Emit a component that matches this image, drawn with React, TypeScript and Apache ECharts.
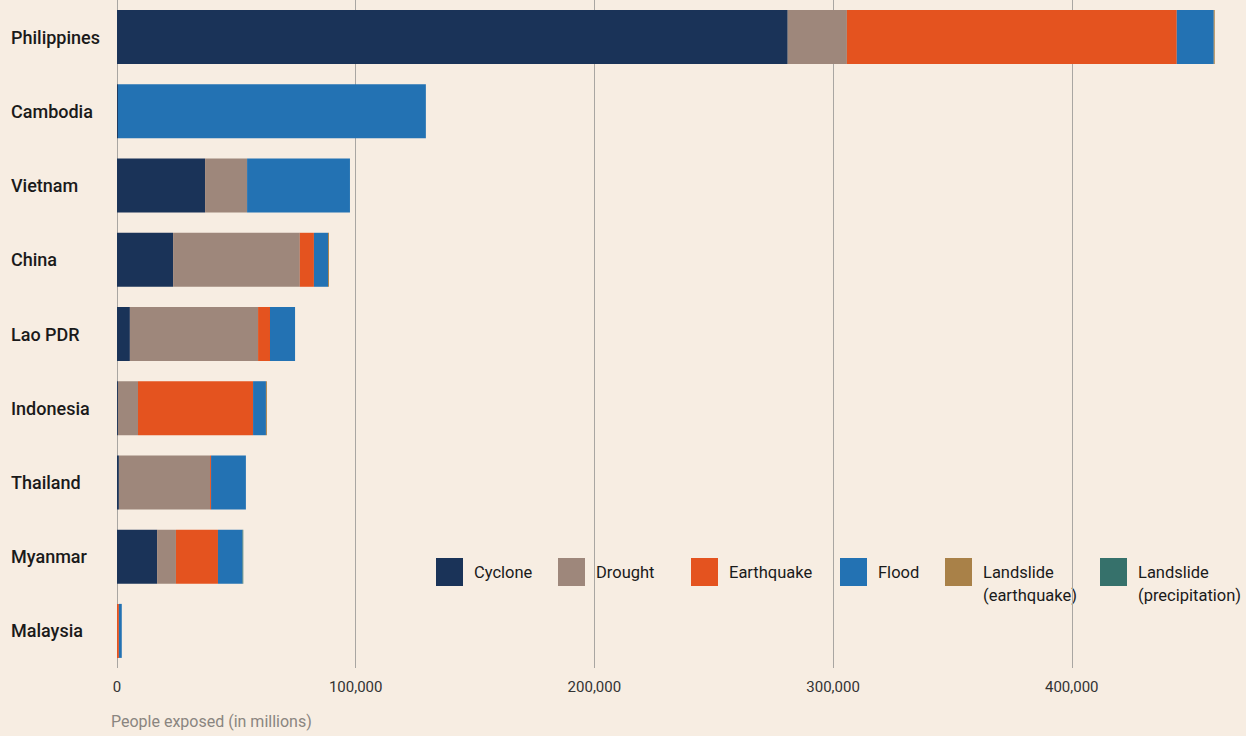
import React, { useEffect, useRef } from "react";
import * as echarts from "echarts";

const categories = ["Philippines", "Cambodia", "Vietnam", "China", "Lao PDR", "Indonesia", "Thailand", "Myanmar", "Malaysia"];
const cyclone = [281000, 400, 36900, 23500, 5400, 400, 800, 16800, 0];
const drought = [24800, 0, 17600, 53100, 53700, 8400, 38200, 7900, 0];
const earthquake = [138200, 0, 0, 5900, 5000, 48200, 400, 17600, 800];
const flood = [15500, 129000, 43100, 5900, 10500, 5400, 14600, 10300, 1200];
const landslideEq = [400, 0, 0, 400, 0, 400, 0, 0, 0];
const landslidePrecip = [0, 0, 0, 0, 0, 0, 0, 300, 0];
const xTicks = [0, 100000, 200000, 300000, 400000];

const seriesNames = ["Cyclone", "Drought", "Earthquake", "Flood", "Landslide (earthquake)", "Landslide (precipitation)"];
const seriesData = [cyclone, drought, earthquake, flood, landslideEq, landslidePrecip];
const colors = ["#1a3358", "#9e877b", "#e4531f", "#2372b3", "#a98148", "#36716b"];
const legendFirstLine = ["Cyclone", "Drought", "Earthquake", "Flood", "Landslide", "Landslide"];
const legendSecondLine = ["", "", "", "", "(earthquake)", "(precipitation)"];
const legendLeft = [436, 558, 691, 840, 945, 1100];

const FONT = "Roboto, 'Noto Sans', sans-serif";

export default function App() {
  const ref = useRef<HTMLDivElement>(null);
  useEffect(() => {
    if (!ref.current) return;
    const chart = echarts.init(ref.current, undefined, { renderer: "svg" });
    const legends = seriesNames.map((n, i) => ({
      show: true,
      left: legendLeft[i],
      top: 558,
      padding: 0,
      orient: "horizontal",
      selectedMode: false,
      itemWidth: 27,
      itemHeight: 28,
      icon: "rect",
      data: [n],
      formatter: () => legendFirstLine[i],
      textStyle: {
        fontFamily: FONT,
        fontSize: 16.5,
        color: "#1a1a1a",
        padding: [0, 0, 0, 6],
      },
    }));
    const secondLines = legendSecondLine
      .map((t, i) => ({ t, i }))
      .filter((o) => o.t)
      .map((o) => ({
        type: "text",
        left: legendLeft[o.i] + 38,
        top: 587,
        style: { text: o.t, fontFamily: FONT, fontSize: 16.5, fill: "#1a1a1a" },
      }));
    chart.setOption({
      animation: false,
      backgroundColor: "#f7ede2",
      textStyle: { fontFamily: FONT },
      color: colors,
      legend: legends,
      grid: { left: 117, width: 1129, top: 0, height: 668, containLabel: false },
      xAxis: {
        type: "value",
        min: 0,
        max: 473000,
        interval: 100000,
        axisLine: { show: false },
        axisTick: { show: false },
        splitLine: { show: true, showMaxLine: false, lineStyle: { color: "#a9a6a2", width: 1 } },
        axisLabel: {
          showMaxLabel: false,
          margin: 11,
          fontFamily: FONT,
          fontSize: 15,
          color: "#333",
          formatter: (v: number) => (xTicks.includes(v) ? v.toLocaleString("en-US") : ""),
        },
      },
      yAxis: {
        type: "category",
        data: categories,
        inverse: true,
        axisLine: { show: false },
        axisTick: { show: false },
        axisLabel: {
          align: "left",
          margin: 106,
          fontFamily: FONT,
          fontSize: 18,
          fontWeight: 500,
          color: "#1a1a1a",
        },
      },
      graphic: [
        ...secondLines,
        {
          type: "text",
          left: 111,
          top: 713,
          style: { text: "People exposed (in millions)", fontFamily: FONT, fontSize: 16, fill: "#8a8580" },
        },
      ],
      series: seriesNames.map((n, i) => ({
        name: n,
        type: "bar",
        stack: "total",
        barWidth: 54,
        data: seriesData[i],
        itemStyle: { color: colors[i] },
      })),
    });
    return () => chart.dispose();
  }, []);
  return <div ref={ref} style={{ position: "fixed", left: 0, top: 0, width: 1246, height: 736 }} />;
}
